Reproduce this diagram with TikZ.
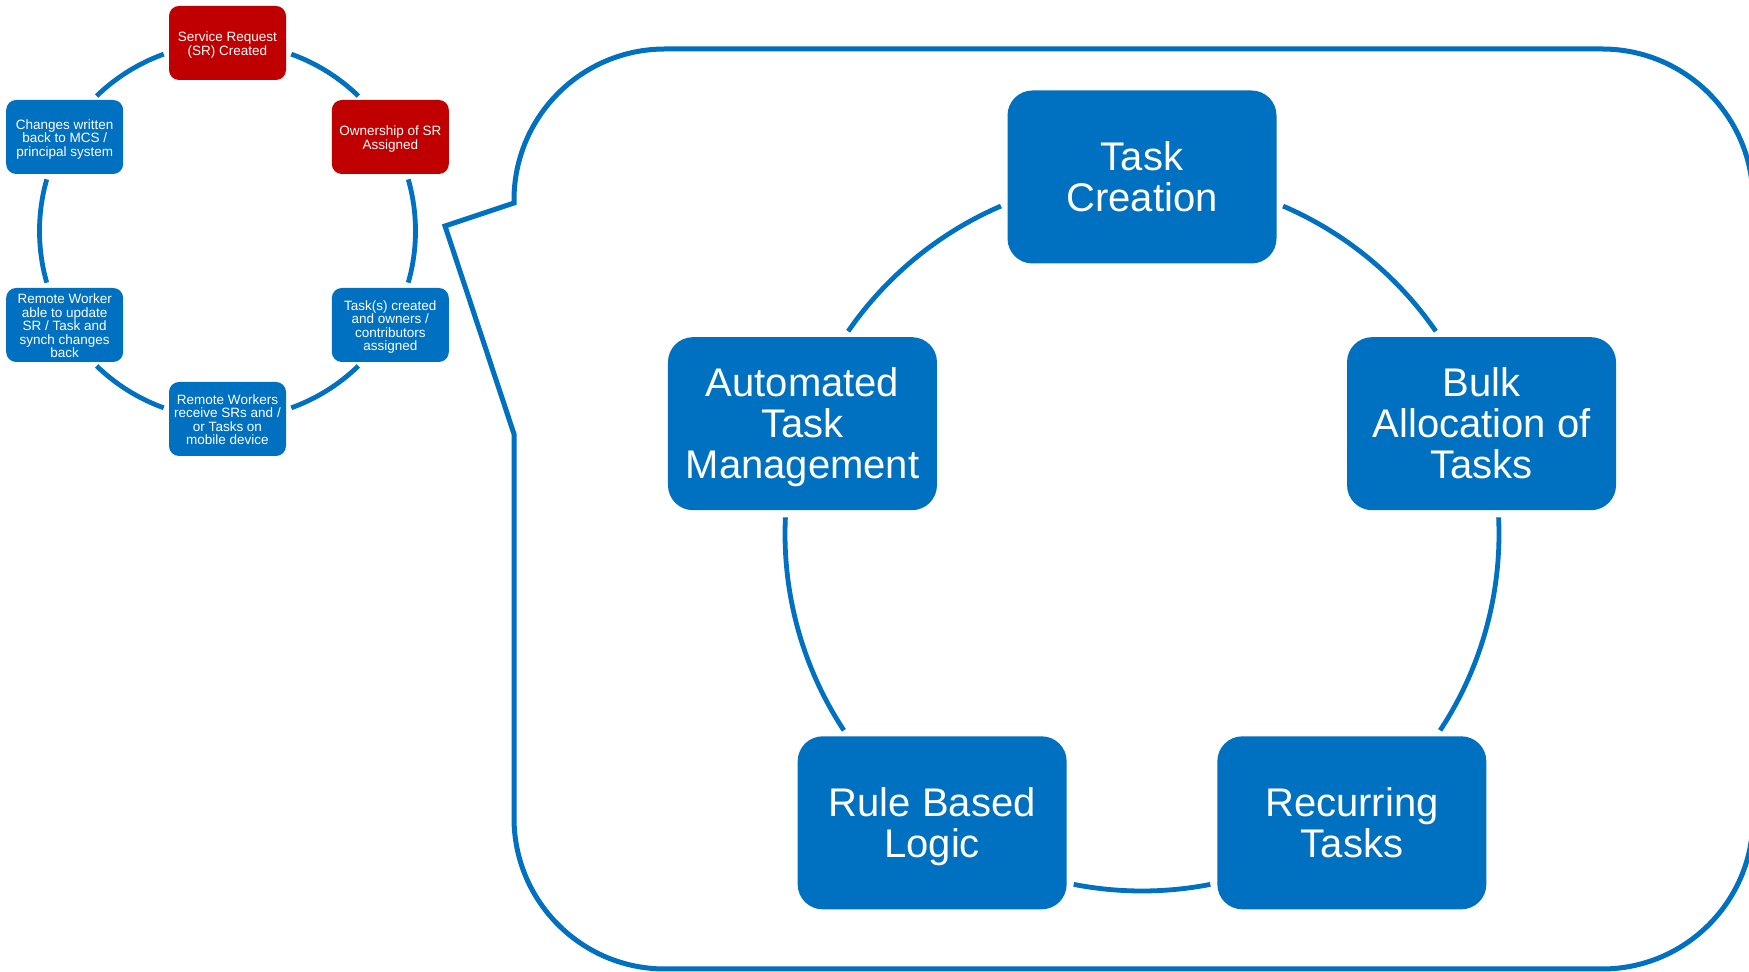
\documentclass[tikz,border=0pt]{standalone}
\usepackage{fontspec}
\setmainfont{Liberation Sans}
\definecolor{mblue}{HTML}{0070C0}
\definecolor{mred}{HTML}{C00000}
\newcommand\tbig{\rule{0pt}{38pt}}
\newcommand\bbig{\rule[-9.5pt]{0pt}{9.5pt}}
\newcommand\tsml{\rule{0pt}{14.5pt}}
\newcommand\bsml{\rule[-3pt]{0pt}{3pt}}
\begin{document}
\begin{tikzpicture}[x=1pt,y=1pt,
  bigbox/.style={fill=mblue, rounded corners=25pt, minimum width=269pt, minimum height=173pt, inner sep=0pt, text=white, align=center, font=\fontsize{40}{41}\selectfont},
  smallblue/.style={fill=mblue, rounded corners=10pt, minimum width=117pt, minimum height=74pt, inner sep=0pt, text=white, align=center, font=\fontsize{13.5}{13.5}\selectfont},
  smallred/.style={smallblue, fill=mred},
  link/.style={draw=mblue, line width=4.8pt},
  callout/.style={draw=mblue, line width=5pt, miter limit=20}
]
\useasboundingbox (0,0) rectangle (1749,972);
\coordinate (cs) at (227.5,741);
\coordinate (cb) at (1142,438);

% callout outline
\draw[callout] (514,769) -- (445,746) -- (514,538) -- (514,154)
  arc[start angle=180, end angle=270, radius=151] -- (1602,3)
  arc[start angle=270, end angle=360, radius=151] -- (1753,772)
  arc[start angle=0, end angle=90, radius=151] -- (665,923)
  arc[start angle=90, end angle=180, radius=151] -- cycle;

% small cycle
\node[smallred]  (sr)  at ([shift={(90:188)}]cs)   {\tsml Service Request\\(SR) Created\bsml};
\node[smallred]  (own) at ([shift={(30:188)}]cs)   {\tsml Ownership of SR\\Assigned\bsml};
\node[smallblue] (tsk) at ([shift={(-30:188)}]cs)  {\tsml Task(s) created\\and owners /\\contributors\\assigned\bsml};
\node[smallblue] (rw)  at ([shift={(-90:188)}]cs)  {\tsml Remote Workers\\receive SRs and /\\or Tasks on\\mobile device\bsml};
\node[smallblue] (rwa) at ([shift={(-150:188)}]cs) {\tsml Remote Worker\\able to update\\SR / Task and\\synch changes\\back\bsml};
\node[smallblue] (chg) at ([shift={(150:188)}]cs)  {\tsml Changes written\\back to MCS /\\principal system\bsml};

\draw[link] ([shift={(70.17:188)}]cs) arc[start angle=70.17, end angle=45.88, radius=188];
\draw[link] ([shift={(15.94:188)}]cs) arc[start angle=15.94, end angle=-15.94, radius=188];
\draw[link] ([shift={(-45.88:188)}]cs) arc[start angle=-45.88, end angle=-70.17, radius=188];
\draw[link] ([shift={(-109.83:188)}]cs) arc[start angle=-109.83, end angle=-134.12, radius=188];
\draw[link] ([shift={(-164.06:188)}]cs) arc[start angle=-164.06, end angle=-195.94, radius=188];
\draw[link] ([shift={(134.12:188)}]cs) arc[start angle=134.12, end angle=109.83, radius=188];

% big cycle
\node[bigbox] (tc)   at ([shift={(90:357)}]cb)   {\tbig Task\\Creation\bbig};
\node[bigbox] (bulk) at ([shift={(18:357)}]cb)   {\tbig Bulk\\Allocation of\\Tasks\bbig};
\node[bigbox] (rec)  at ([shift={(-54:357)}]cb)  {\tbig Recurring\\Tasks\bbig};
\node[bigbox] (rule) at ([shift={(-126:357)}]cb) {\tbig Rule Based\\Logic\bbig};
\node[bigbox] (auto) at ([shift={(162:357)}]cb)  {\tbig Automated\\Task\\Management\bbig};

\draw[link] ([shift={(66.72:357)}]cb) arc[start angle=66.72, end angle=34.6, radius=357];
\draw[link] ([shift={(2.67:357)}]cb) arc[start angle=2.67, end angle=-33.37, radius=357];
\draw[link] ([shift={(-78.97:357)}]cb) arc[start angle=-78.97, end angle=-101.03, radius=357];
\draw[link] ([shift={(-146.63:357)}]cb) arc[start angle=-146.63, end angle=-182.67, radius=357];
\draw[link] ([shift={(145.4:357)}]cb) arc[start angle=145.4, end angle=113.28, radius=357];
\end{tikzpicture}
\end{document}
